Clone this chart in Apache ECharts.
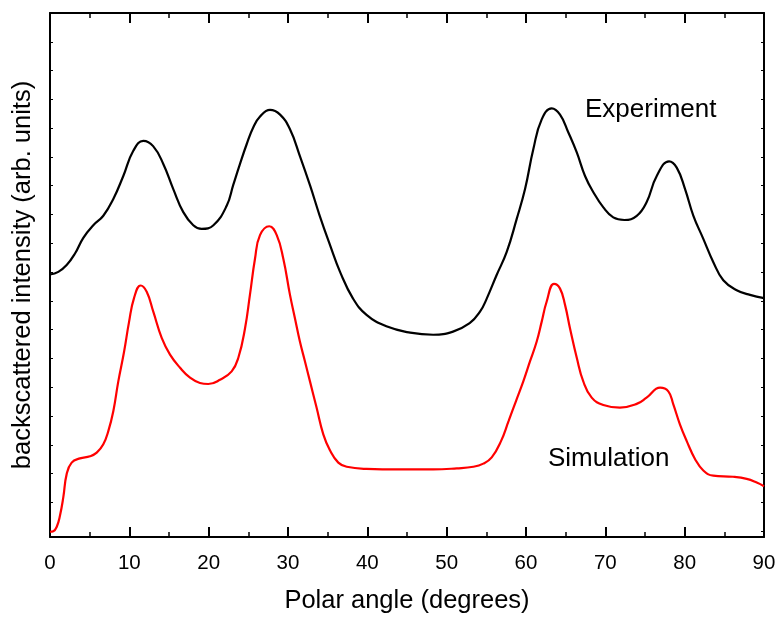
<!DOCTYPE html>
<html>
<head>
<meta charset="utf-8">
<script src="https://cdn.jsdelivr.net/npm/echarts@6/dist/echarts.min.js"></script>
<style>
html,body{margin:0;padding:0;background:#fff;}
#chart{width:779px;height:619px;}
</style>
</head>
<body>
<div id="chart"></div>
<script>
// Polar angle (degrees) ticks
var xTicks = [0, 10, 20, 30, 40, 50, 60, 70, 80, 90];

// Experiment curve (arb. units)
var expAngles = [0, 1.05, 2.1, 3.15, 4.2, 5.46, 6.72, 7.98, 9.24, 10.5, 11.76, 13.0, 14.28, 15.54, 16.8, 18.06, 19.1, 20.6, 22.27, 23.1, 23.95, 24.8, 25.63, 26.5, 27.73, 29.0, 30.25, 31.5, 32.8, 34.0, 35.3, 36.56, 38.2, 39.9, 42.4, 45.4, 48.3, 50.8, 52.9, 54.2, 55.05, 56.3, 57.57, 58.83, 59.88, 60.92, 61.98, 63.24, 64.29, 65.34, 66.4, 67.44, 68.49, 69.75, 71.0, 72.4, 73.96, 75.2, 76.48, 78.03, 79.0, 80.05, 81.1, 82.35, 83.6, 84.87, 86.56, 88.24, 90];
var expValues = [50.1, 50.6, 51.9, 54.1, 57.1, 59.5, 61.3, 64.5, 68.9, 73.7, 75.6, 74.6, 71.2, 66.4, 62.0, 59.5, 58.8, 59.5, 63.2, 67.2, 71.2, 75.0, 78.2, 80.3, 81.5, 80.6, 77.8, 72.7, 67.0, 61.3, 55.7, 50.6, 45.5, 42.4, 40.2, 39.0, 38.6, 39.2, 40.8, 43.0, 45.5, 50.0, 54.4, 60.7, 66.4, 74.0, 79.7, 81.8, 80.6, 77.2, 73.4, 68.9, 65.8, 62.9, 61.0, 60.5, 61.3, 63.9, 68.9, 71.7, 70.5, 66.4, 61.3, 56.9, 52.5, 49.0, 47.1, 46.2, 45.6];

// Simulation curve (arb. units)
var simAngles = [0, 0.42, 0.84, 1.26, 1.68, 2.1, 2.73, 3.78, 5.04, 5.89, 6.72, 7.35, 7.98, 8.61, 9.33, 9.96, 10.59, 11.43, 12.19, 13.02, 14.08, 15.13, 16.39, 17.65, 18.9, 19.95, 21.43, 22.9, 23.74, 24.58, 25.2, 25.84, 26.47, 27.64, 28.58, 29.41, 30.25, 30.88, 31.5, 32.14, 32.77, 33.6, 34.45, 35.3, 36.34, 37.4, 39.9, 44.1, 48.3, 51.27, 53.36, 54.62, 55.68, 56.85, 57.8, 58.75, 59.66, 60.5, 61.35, 61.98, 62.6, 63.53, 64.29, 64.92, 65.55, 66.4, 67.22, 68.28, 69.75, 71.84, 73.95, 75.2, 76.9, 77.94, 78.57, 79.4, 80.26, 81.3, 82.35, 83.6, 86.1, 87.82, 89.08, 90];
var simValues = [1.0, 1.1, 1.9, 4.1, 7.6, 12.0, 14.2, 15.0, 15.4, 16.1, 17.7, 20.2, 24.0, 29.7, 35.3, 41.0, 45.6, 48.0, 46.8, 43.0, 38.0, 34.8, 32.3, 30.4, 29.4, 29.2, 30.0, 31.6, 34.2, 39.8, 46.2, 53.1, 57.6, 59.3, 57.6, 53.1, 46.2, 41.7, 37.3, 33.5, 29.7, 24.7, 19.6, 16.5, 14.2, 13.4, 13.0, 12.9, 12.9, 13.1, 13.4, 14.0, 15.2, 18.3, 22.1, 26.0, 29.7, 33.5, 37.3, 41.1, 44.9, 48.3, 47.4, 44.3, 39.8, 34.2, 29.7, 26.6, 25.2, 24.7, 25.4, 26.6, 28.5, 27.8, 25.3, 21.5, 18.3, 14.9, 12.7, 11.7, 11.5, 11.1, 10.4, 9.7];

var seriesNames = ['Experiment', 'Simulation'];

function zip(a, b) { return a.map(function (v, i) { return [v, b[i]]; }); }

var FONT = 'Liberation Sans, Arial, sans-serif';
var chart = echarts.init(document.getElementById('chart'), null, {renderer: 'canvas'});

var tickAxisCommon = {
  type: 'value', min: 0, max: 18.2, interval: 1, inverse: true,
  axisLine: {show: true, lineStyle: {color: '#000', width: 2}},
  axisTick: {show: true, inside: true, length: 3, lineStyle: {color: '#000', width: 1}},
  axisLabel: {show: false}, splitLine: {show: false}
};

var xAxisCommon = {
  type: 'value', min: xTicks[0], max: xTicks[xTicks.length - 1], interval: 10,
  axisLine: {show: true, onZero: false, lineStyle: {color: '#000', width: 2}},
  axisTick: {show: true, inside: true, length: 10, lineStyle: {color: '#000', width: 2}},
  minorTick: {show: true, splitNumber: 2, length: 5, lineStyle: {color: '#000', width: 1.5}},
  splitLine: {show: false}
};

chart.setOption({
  animation: false,
  backgroundColor: '#fff',
  grid: {left: 50, right: 15, top: 13, bottom: 79},
  xAxis: [Object.assign({}, xAxisCommon, {
    position: 'bottom',
    name: 'Polar angle (degrees)', nameLocation: 'middle', nameGap: 51,
    nameTextStyle: {fontFamily: FONT, fontSize: 25.5, color: '#000'},
    axisLabel: {fontFamily: FONT, fontSize: 20.5, color: '#000', margin: 16}
  }), Object.assign({}, xAxisCommon, {
    position: 'top',
    axisLabel: {show: false}
  })],
  yAxis: [{
    type: 'value', min: 0, max: 100,
    axisLine: {show: false}, axisTick: {show: false}, axisLabel: {show: false}, splitLine: {show: false}
  }, Object.assign({}, tickAxisCommon, {
    position: 'left',
    name: 'backscattered intensity (arb. units)', nameLocation: 'middle', nameGap: 14,
    nameTextStyle: {fontFamily: FONT, fontSize: 25.5, color: '#000'}
  }), Object.assign({}, tickAxisCommon, {position: 'right'})],
  series: [{
    name: seriesNames[0], type: 'line', xAxisIndex: 0, yAxisIndex: 0,
    data: zip(expAngles, expValues), showSymbol: false, smooth: 0.45,
    lineStyle: {color: '#000', width: 2.2}
  }, {
    name: seriesNames[1], type: 'line', xAxisIndex: 0, yAxisIndex: 0,
    data: zip(simAngles, simValues), showSymbol: false, smooth: 0.45,
    lineStyle: {color: '#ff0000', width: 2.2}
  }],
  graphic: [{
    type: 'text', left: 585, top: 97,
    style: {text: seriesNames[0], fontFamily: FONT, fontSize: 26, fill: '#000'}
  }, {
    type: 'text', left: 548, top: 446,
    style: {text: seriesNames[1], fontFamily: FONT, fontSize: 26, fill: '#000'}
  }]
});
</script>
</body>
</html>
